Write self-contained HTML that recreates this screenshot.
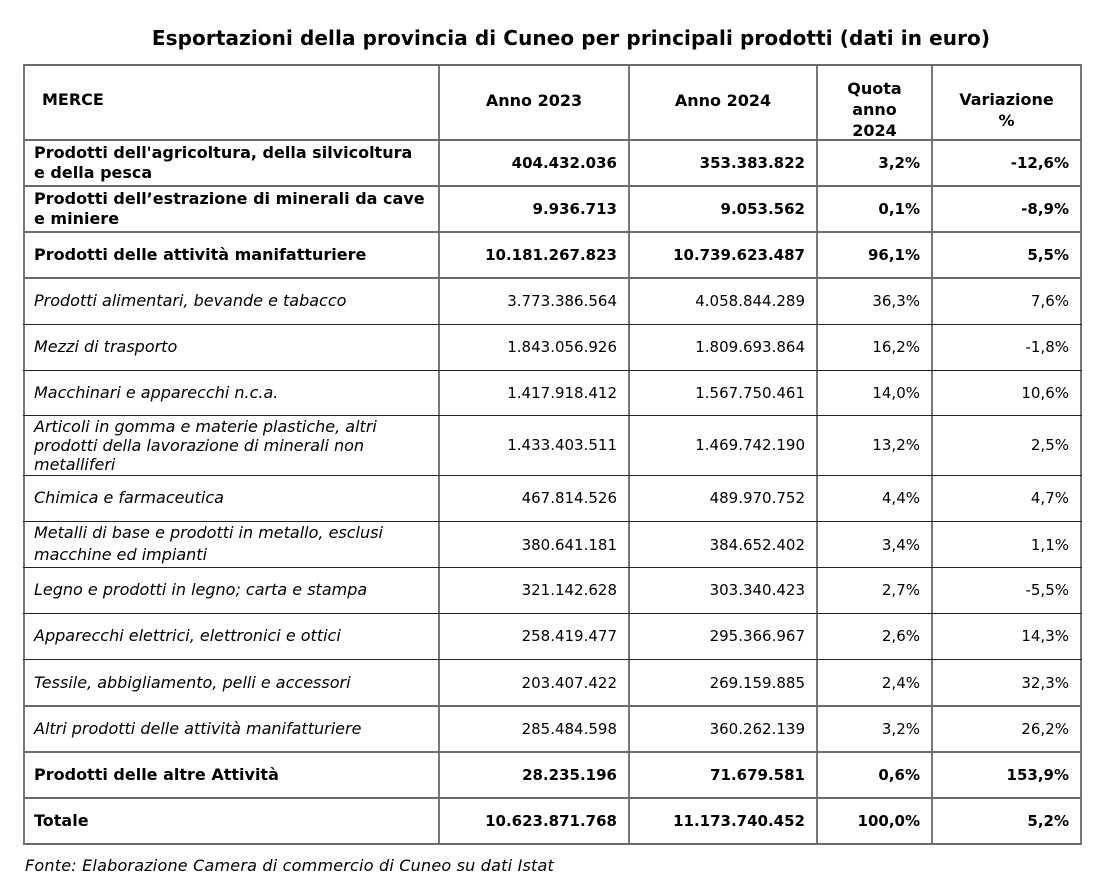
<!DOCTYPE html>
<html>
<head>
<meta charset="utf-8">
<style>
  html,body{margin:0;padding:0;background:#fff;}
  body{width:1104px;height:896px;position:relative;overflow:hidden;font-family:"DejaVu Sans","Liberation Sans",sans-serif;color:#000;}
  .title{position:absolute;left:0;width:1142px;top:26px;line-height:24px;text-align:center;font-weight:bold;font-size:20px;letter-spacing:0.1px;}
  .hl{position:absolute;left:23px;width:1059px;height:2px;background:#6a6a6a;}
  .hl.t{height:1px;background:#222;}
  .vl{position:absolute;top:64px;height:781px;width:2px;background:#777;}
  .c{position:absolute;display:flex;align-items:center;box-sizing:border-box;}
  .lab{left:24px;width:415px;padding-left:10px;font-size:16px;line-height:20px;}
  .b{font-weight:bold;}
  .i{font-style:italic;}
  .n{justify-content:flex-end;padding-right:12px;font-size:15px;white-space:nowrap;}
  .c1{left:439px;width:190px;}
  .c2{left:629px;width:188px;}
  .c3{left:817px;width:115px;}
  .c4{left:932px;width:149px;}
  .h{justify-content:center;text-align:center;font-weight:bold;font-size:16px;line-height:21px;}
  .foot{position:absolute;left:25px;top:856px;line-height:20px;font-size:16px;font-style:italic;letter-spacing:0.2px;}
</style>
</head>
<body>
<div class="title">Esportazioni della provincia di Cuneo per principali prodotti (dati in euro)</div>

<!-- vertical lines -->
<div class="vl" style="left:23px"></div>
<div class="vl" style="left:438px"></div>
<div class="vl" style="left:628px"></div>
<div class="vl" style="left:816px"></div>
<div class="vl" style="left:931px"></div>
<div class="vl" style="left:1080px"></div>

<!-- horizontal lines -->
<div class="hl" style="top:64px"></div>
<div class="hl" style="top:139px"></div>
<div class="hl" style="top:185px"></div>
<div class="hl" style="top:231px"></div>
<div class="hl" style="top:277px"></div>
<div class="hl t" style="top:324px"></div>
<div class="hl t" style="top:370px"></div>
<div class="hl t" style="top:415px"></div>
<div class="hl t" style="top:475px"></div>
<div class="hl t" style="top:521px"></div>
<div class="hl t" style="top:567px"></div>
<div class="hl t" style="top:613px"></div>
<div class="hl t" style="top:659px"></div>
<div class="hl" style="top:705px"></div>
<div class="hl" style="top:751px"></div>
<div class="hl" style="top:797px"></div>
<div class="hl" style="top:843px"></div>

<!-- header -->
<div class="c lab b" style="top:65px;height:70px;padding-left:18px;">MERCE</div>
<div class="c c1 h" style="top:65px;height:70px;">Anno 2023</div>
<div class="c c2 h" style="top:65px;height:70px;">Anno 2024</div>
<div class="c c3 h" style="top:65px;height:88px;">Quota<br>anno<br>2024</div>
<div class="c c4 h" style="top:65px;height:90px;">Variazione<br>%</div>

<!-- row 1 -->
<div class="c lab b" style="top:140px;height:46px;">Prodotti dell'agricoltura, della silvicoltura<br>e della pesca</div>
<div class="c n b c1" style="top:140px;height:46px;">404.432.036</div>
<div class="c n b c2" style="top:140px;height:46px;">353.383.822</div>
<div class="c n b c3" style="top:140px;height:46px;">3,2%</div>
<div class="c n b c4" style="top:140px;height:46px;">-12,6%</div>

<!-- row 2 -->
<div class="c lab b" style="top:186px;height:46px;">Prodotti dell’estrazione di minerali da cave<br>e miniere</div>
<div class="c n b c1" style="top:186px;height:46px;">9.936.713</div>
<div class="c n b c2" style="top:186px;height:46px;">9.053.562</div>
<div class="c n b c3" style="top:186px;height:46px;">0,1%</div>
<div class="c n b c4" style="top:186px;height:46px;">-8,9%</div>

<!-- row 3 -->
<div class="c lab b" style="top:232px;height:46px;">Prodotti delle attività manifatturiere</div>
<div class="c n b c1" style="top:232px;height:46px;">10.181.267.823</div>
<div class="c n b c2" style="top:232px;height:46px;">10.739.623.487</div>
<div class="c n b c3" style="top:232px;height:46px;">96,1%</div>
<div class="c n b c4" style="top:232px;height:46px;">5,5%</div>

<!-- row 4 -->
<div class="c lab i" style="top:278px;height:46px;">Prodotti alimentari, bevande e tabacco</div>
<div class="c n c1" style="top:278px;height:46px;">3.773.386.564</div>
<div class="c n c2" style="top:278px;height:46px;">4.058.844.289</div>
<div class="c n c3" style="top:278px;height:46px;">36,3%</div>
<div class="c n c4" style="top:278px;height:46px;">7,6%</div>

<!-- row 5 -->
<div class="c lab i" style="top:324px;height:46px;">Mezzi di trasporto</div>
<div class="c n c1" style="top:324px;height:46px;">1.843.056.926</div>
<div class="c n c2" style="top:324px;height:46px;">1.809.693.864</div>
<div class="c n c3" style="top:324px;height:46px;">16,2%</div>
<div class="c n c4" style="top:324px;height:46px;">-1,8%</div>

<!-- row 6 -->
<div class="c lab i" style="top:370px;height:45px;">Macchinari e apparecchi n.c.a.</div>
<div class="c n c1" style="top:370px;height:45px;">1.417.918.412</div>
<div class="c n c2" style="top:370px;height:45px;">1.567.750.461</div>
<div class="c n c3" style="top:370px;height:45px;">14,0%</div>
<div class="c n c4" style="top:370px;height:45px;">10,6%</div>

<!-- row 7 -->
<div class="c lab i" style="top:415px;height:60px;line-height:19px;">Articoli in gomma e materie plastiche, altri<br>prodotti della lavorazione di minerali non<br>metalliferi</div>
<div class="c n c1" style="top:415px;height:60px;">1.433.403.511</div>
<div class="c n c2" style="top:415px;height:60px;">1.469.742.190</div>
<div class="c n c3" style="top:415px;height:60px;">13,2%</div>
<div class="c n c4" style="top:415px;height:60px;">2,5%</div>

<!-- row 8 -->
<div class="c lab i" style="top:475px;height:46px;">Chimica e farmaceutica</div>
<div class="c n c1" style="top:475px;height:46px;">467.814.526</div>
<div class="c n c2" style="top:475px;height:46px;">489.970.752</div>
<div class="c n c3" style="top:475px;height:46px;">4,4%</div>
<div class="c n c4" style="top:475px;height:46px;">4,7%</div>

<!-- row 9 -->
<div class="c lab i" style="top:521px;height:46px;line-height:22px;">Metalli di base e prodotti in metallo, esclusi<br>macchine ed impianti</div>
<div class="c n c1" style="top:522px;height:46px;">380.641.181</div>
<div class="c n c2" style="top:522px;height:46px;">384.652.402</div>
<div class="c n c3" style="top:522px;height:46px;">3,4%</div>
<div class="c n c4" style="top:522px;height:46px;">1,1%</div>

<!-- row 10 -->
<div class="c lab i" style="top:567px;height:46px;">Legno e prodotti in legno; carta e stampa</div>
<div class="c n c1" style="top:567px;height:46px;">321.142.628</div>
<div class="c n c2" style="top:567px;height:46px;">303.340.423</div>
<div class="c n c3" style="top:567px;height:46px;">2,7%</div>
<div class="c n c4" style="top:567px;height:46px;">-5,5%</div>

<!-- row 11 -->
<div class="c lab i" style="top:613px;height:46px;">Apparecchi elettrici, elettronici e ottici</div>
<div class="c n c1" style="top:613px;height:46px;">258.419.477</div>
<div class="c n c2" style="top:613px;height:46px;">295.366.967</div>
<div class="c n c3" style="top:613px;height:46px;">2,6%</div>
<div class="c n c4" style="top:613px;height:46px;">14,3%</div>

<!-- row 12 -->
<div class="c lab i" style="top:659px;height:47px;">Tessile, abbigliamento, pelli e accessori</div>
<div class="c n c1" style="top:659px;height:47px;">203.407.422</div>
<div class="c n c2" style="top:659px;height:47px;">269.159.885</div>
<div class="c n c3" style="top:659px;height:47px;">2,4%</div>
<div class="c n c4" style="top:659px;height:47px;">32,3%</div>

<!-- row 13 -->
<div class="c lab i" style="top:706px;height:46px;">Altri prodotti delle attività manifatturiere</div>
<div class="c n c1" style="top:706px;height:46px;">285.484.598</div>
<div class="c n c2" style="top:706px;height:46px;">360.262.139</div>
<div class="c n c3" style="top:706px;height:46px;">3,2%</div>
<div class="c n c4" style="top:706px;height:46px;">26,2%</div>

<!-- row 14 -->
<div class="c lab b" style="top:752px;height:46px;">Prodotti delle altre Attività</div>
<div class="c n b c1" style="top:752px;height:46px;">28.235.196</div>
<div class="c n b c2" style="top:752px;height:46px;">71.679.581</div>
<div class="c n b c3" style="top:752px;height:46px;">0,6%</div>
<div class="c n b c4" style="top:752px;height:46px;">153,9%</div>

<!-- row 15 -->
<div class="c lab b" style="top:798px;height:46px;">Totale</div>
<div class="c n b c1" style="top:798px;height:46px;">10.623.871.768</div>
<div class="c n b c2" style="top:798px;height:46px;">11.173.740.452</div>
<div class="c n b c3" style="top:798px;height:46px;">100,0%</div>
<div class="c n b c4" style="top:798px;height:46px;">5,2%</div>

<div class="foot">Fonte: Elaborazione Camera di commercio di Cuneo su dati Istat</div>
</body>
</html>
